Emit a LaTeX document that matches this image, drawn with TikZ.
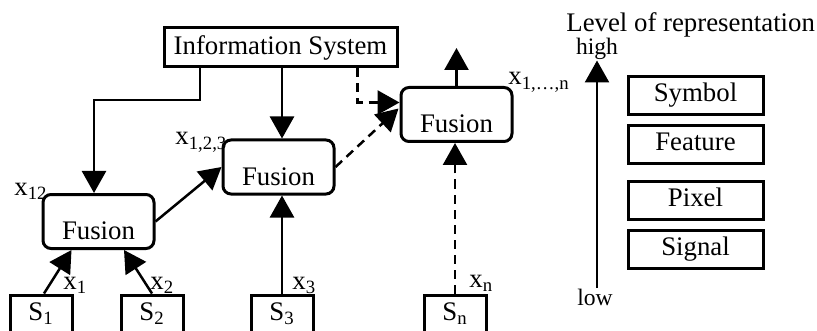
\documentclass[tikz,border=0pt]{standalone}
\usepackage{fontspec}
\setmainfont{Liberation Serif}
\usetikzlibrary{arrows.meta,calc}
\newlength{\du}
\setlength{\du}{0.5pt}

\begin{document}
\begin{tikzpicture}[
  box/.style={draw=dialinecolor,line width=3\du,inner xsep=0pt,inner ysep=4\du,font=\fontsize{13.4}{15}\selectfont},
  fusionbox/.style={box,rounded corners=8\du,minimum width=111\du,text height=41\du,text depth=5\du},
  srcbox/.style={box,minimum width=62\du,text height=21\du,text depth=24\du},
  levelbox/.style={box,minimum width=135\du,text height=21\du,text depth=9\du},
  lbl/.style={inner sep=0pt,anchor=base west,font=\fontsize{13.4}{15}\selectfont},
  endlbl/.style={inner sep=0pt,anchor=base,font=\fontsize{11.8}{13}\selectfont},
  arr/.style={draw=dialinecolor,line width=2.5\du,-{Triangle[length=11pt,width=12pt]}},
  darr/.style={arr,dash pattern=on 9\du off 6\du}]
\pgftransformxscale{1.000000}
\pgftransformyscale{-1.000000}
\definecolor{dialinecolor}{rgb}{0.000000, 0.000000, 0.000000}
\path[clip] (0\du,0\du) rectangle (817\du,331\du);
\useasboundingbox (0\du,0\du) rectangle (817\du,331\du);
% boxes
\node[box,minimum width=233\du,text height=23\du,text depth=8\du] (info) at (280.5\du,47.5\du){Information System};
\node[fusionbox] (fus1) at (98.5\du,221.5\du){Fusion};
\node[fusionbox] (fus2) at (278.5\du,167\du){Fusion};
\node[fusionbox] (fus3) at (456.5\du,114.5\du){Fusion};
\node[srcbox] (s1) at (41\du,321.5\du){S\textsubscript{1}};
\node[srcbox] (s2) at (152\du,321.5\du){S\textsubscript{2}};
\node[srcbox] (s3) at (282\du,321.5\du){S\textsubscript{3}};
\node[srcbox] (sn) at (455\du,321.5\du){S\textsubscript{n}};
\node[levelbox] (symbol) at (695.5\du,96\du){Symbol};
\node[levelbox] (feature) at (695.5\du,145\du){Feature};
\node[levelbox] (pixel) at (695.5\du,200\du){Pixel};
\node[levelbox] (signal) at (695.5\du,249\du){Signal};
% labels
\node[lbl] (lx1) at (63\du,289\du){x\textsubscript{1}};
\node[lbl] (lx2) at (150\du,289\du){x\textsubscript{2}};
\node[lbl] (lx3) at (292\du,289\du){x\textsubscript{3}};
\node[lbl] (lxn) at (469\du,287\du){x\textsubscript{n}};
\node[lbl] (lx12) at (14\du,195\du){x\textsubscript{12}};
\node[lbl] (lx123) at (175\du,145\du){x\textsubscript{1,2,3}};
\node[lbl] (lx1n) at (508\du,85\du){x\textsubscript{1,\ldots,n}};
\node[lbl] (level) at (566\du,32\du){Level of representation};
\node[endlbl] (high) at (597\du,55\du){high};
\node[endlbl] (low) at (595\du,305\du){low};
% connectors
\coordinate (k1) at (200\du,100\du);
\coordinate (k2) at (94\du,100\du);
\coordinate (fout) at (456.5\du,48\du);
\draw[arr] (info.south -| k1) -- (k1) -- (k2) -- (fus1.north -| k2);
\draw[arr] (info.south -| s3.north) -- (fus2.north -| s3.north);
\draw[darr] ($(info.south east)+(-41\du,0)$) |- ($(fus3.west)+(0,-12\du)$);
\draw[arr] (fus1.east) -- (fus2.west);
\draw[darr] (fus2.east) -- ($(fus3.west)+(-1\du,-6\du)$);
\draw[arr] (fus3.north) -- (fout);
\draw[arr] ($(s1.north)+(3\du,0)$) -- ($(fus1.south)+(-27\du,0)$);
\draw[arr] (s2.north) -- ($(fus1.south)+(25.5\du,0)$);
\draw[arr] (s3.north) -- (fus2.south -| s3.north);
\draw[darr] (sn.north) -- (fus3.south -| sn.north);
\draw[arr] (low.north -| high.south) -- (high.south);
\end{tikzpicture}
\end{document}
